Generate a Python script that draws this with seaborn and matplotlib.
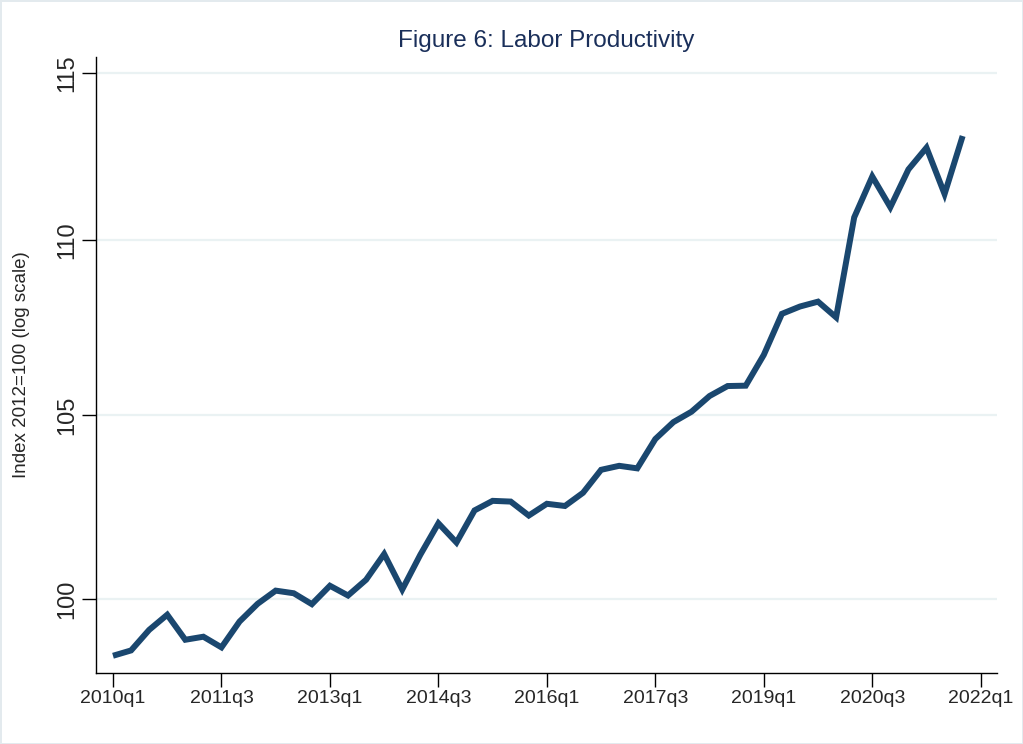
import numpy as np
import pandas as pd
import matplotlib
matplotlib.use("Agg")
import matplotlib.pyplot as plt
from matplotlib.ticker import FixedLocator, FixedFormatter, NullLocator
import seaborn as sns

# DATA (2010q1 .. 2021q4)
years = [2010, 2011, 2012, 2013, 2014, 2015, 2016, 2017, 2018, 2019, 2020, 2021]
productivity = [
    98.50, 98.64, 99.18, 99.58, 98.92, 99.00, 98.72, 99.40,
    99.87, 100.22, 100.15, 99.86, 100.35, 100.09, 100.51, 101.20,
    100.25, 101.18, 102.03, 101.51, 102.38, 102.64, 102.62, 102.24,
    102.56, 102.50, 102.86, 103.49, 103.60, 103.53, 104.34, 104.81,
    105.10, 105.54, 105.82, 105.83, 106.70, 107.87, 108.08, 108.22,
    107.77, 110.67, 111.88, 110.97, 112.09, 112.74, 111.36, 113.09,
]
y_ticks = [100, 105, 110, 115]
x_tick_labels = ["2010q1", "2011q3", "2013q1", "2014q3", "2016q1",
                 "2017q3", "2019q1", "2020q3", "2022q1"]

quarters = [f"{y}q{q}" for y in years for q in range(1, 5)]
df = pd.DataFrame({"quarter": quarters, "value": productivity})
df["t"] = range(len(df))

# STYLE
sns.set_style("white")
plt.rcParams["font.family"] = ["Liberation Sans", "DejaVu Sans"]

LINE_COLOR = "#1a476f"
GRID_COLOR = "#eaf2f3"
TITLE_COLOR = "#1a2f5a"

fig = plt.figure(figsize=(10.23, 7.44), dpi=100,
                 facecolor="white", edgecolor="#e3eaee", linewidth=2)
ax = fig.add_axes([96 / 1023, 1 - 673 / 744, (997 - 96) / 1023, (673 - 57) / 744])

sns.lineplot(data=df, x="t", y="value", ax=ax, color=LINE_COLOR,
             linewidth=4.3, solid_joinstyle="miter", solid_capstyle="butt")

ax.set_yscale("log")
ax.set_ylim(98.05, 115.49)
ax.set_xlim(-0.94, 48.9)

ax.yaxis.set_major_locator(FixedLocator(y_ticks))
ax.yaxis.set_major_formatter(FixedFormatter([str(v) for v in y_ticks]))
ax.yaxis.set_minor_locator(NullLocator())
# tick positions: every 6 quarters from 2010q1 (2022q1 is one past the data)
tick_pos = [quarters.index(lbl) if lbl in quarters else len(quarters)
            for lbl in x_tick_labels]
ax.set_xticks(tick_pos)
ax.set_xticklabels(x_tick_labels)

ax.grid(axis="y", color=GRID_COLOR, linewidth=1.6)
ax.grid(axis="x", visible=False)
ax.set_axisbelow(True)

for side in ["top", "right"]:
    ax.spines[side].set_visible(False)
for side in ["left", "bottom"]:
    ax.spines[side].set_color("black")
    ax.spines[side].set_linewidth(1.0)

ax.tick_params(axis="both", which="major", direction="out", length=10,
               width=1.0, color="black", bottom=True, left=True)
ax.tick_params(axis="x", labelsize=14, pad=2)
ax.tick_params(axis="y", labelsize=17, pad=3)
for lab in ax.get_yticklabels():
    lab.set_rotation(90)
    lab.set_va("center")

ax.set_xlabel("")
ax.set_ylabel("Index 2012=100 (log scale)", fontsize=13.5, labelpad=19)
ax.set_title("Figure 6: Labor Productivity", fontsize=17.5,
             color=TITLE_COLOR, pad=7)

fig.savefig("out.png", dpi=100, facecolor="white",
            edgecolor=fig.get_edgecolor())
